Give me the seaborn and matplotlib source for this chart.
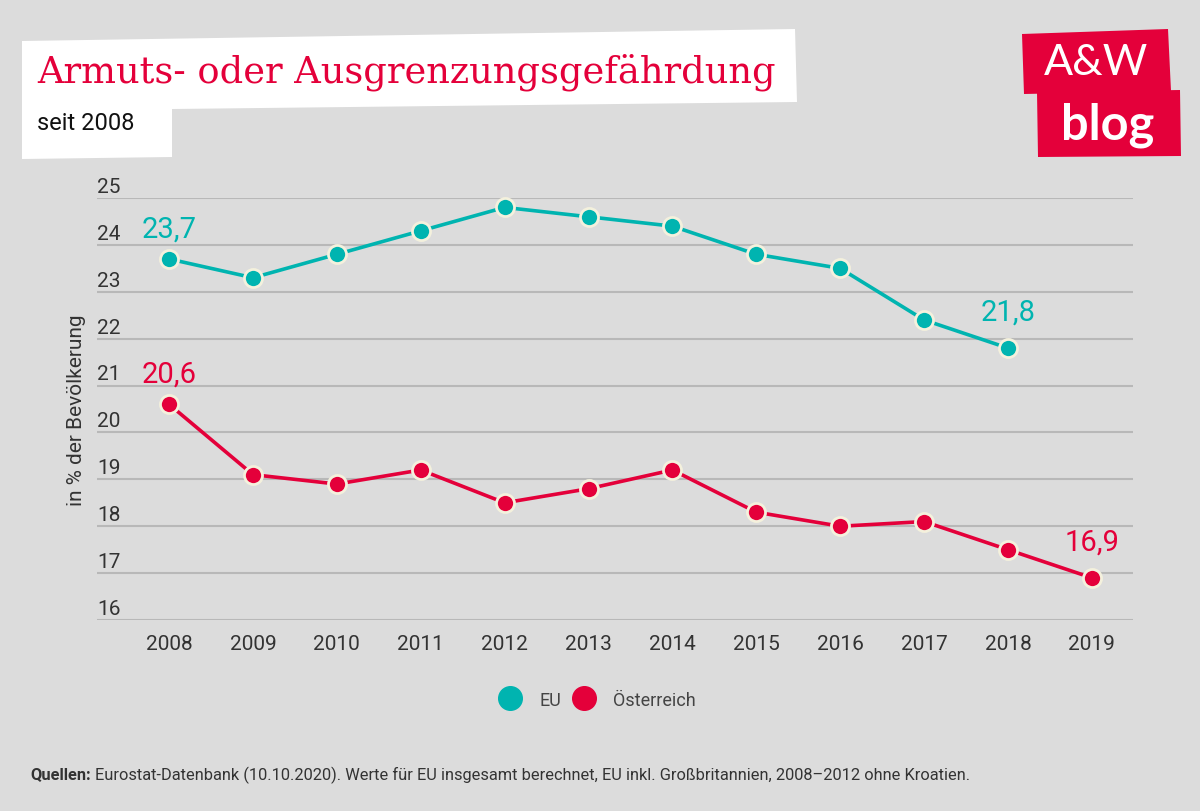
import pandas as pd
import numpy as np
import matplotlib.pyplot as plt
import matplotlib.transforms as mtransforms
from matplotlib.patches import Polygon
from matplotlib.lines import Line2D
import seaborn as sns

# Daten
jahre_eu = [2008, 2009, 2010, 2011, 2012, 2013, 2014, 2015, 2016, 2017, 2018]
werte_eu = [23.7, 23.3, 23.8, 24.3, 24.8, 24.6, 24.4, 23.8, 23.5, 22.4, 21.8]
jahre_at = [2008, 2009, 2010, 2011, 2012, 2013, 2014, 2015, 2016, 2017, 2018, 2019]
werte_at = [20.6, 19.1, 18.9, 19.2, 18.5, 18.8, 19.2, 18.3, 18.0, 18.1, 17.5, 16.9]
y_ticks = [16, 17, 18, 19, 20, 21, 22, 23, 24, 25]

bg = '#dcdcdc'
teal = '#00b4b0'
red = '#e4003a'
text_col = '#333333'
W, H = 1200, 812

df = pd.concat([
    pd.DataFrame({'Jahr': jahre_eu, 'Wert': werte_eu, 'Region': 'EU'}),
    pd.DataFrame({'Jahr': jahre_at, 'Wert': werte_at, 'Region': 'Österreich'}),
]).reset_index(drop=True)

sns.set_theme(style='white')
plt.rcParams['font.family'] = ['Roboto', 'DejaVu Sans']

fig = plt.figure(figsize=(12, 8.12), dpi=100, facecolor=bg)
ax = fig.add_axes([0.0808, 0.2352, 0.8633, 0.5197])
ax.set_facecolor(bg)

sns.lineplot(data=df, x='Jahr', y='Wert', hue='Region',
             palette={'EU': teal, 'Österreich': red},
             marker='o', markersize=13, markeredgecolor='#f4f1dd',
             markeredgewidth=2, linewidth=2.6, legend=False, ax=ax,
             clip_on=False, zorder=3)

ax.set_xlim(2008 - 0.86, 2019 + 0.49)
ax.set_ylim(16, 25)
ax.set_yticks(y_ticks)
ax.set_xticks(jahre_at)
ax.grid(axis='y', color='#b8b8b8', linewidth=1.5)
ax.grid(axis='x', visible=False)
for s in ax.spines.values():
    s.set_visible(False)

ax.tick_params(axis='y', length=0, pad=0, labelsize=15, labelcolor=text_col)
ax.tick_params(axis='x', length=0, pad=10, labelsize=15, labelcolor=text_col)
offset = mtransforms.ScaledTranslation(0, 1.5 / 72, fig.dpi_scale_trans)
for lbl in ax.get_yticklabels():
    lbl.set_horizontalalignment('left')
    lbl.set_verticalalignment('bottom')
    lbl.set_transform(lbl.get_transform() + offset)

ax.set_xlabel('')
ax.set_ylabel('in % der Bevölkerung', fontsize=15, color=text_col, labelpad=8)

# Wertbeschriftungen
labels = [(jahre_eu[0], werte_eu[0], teal, 12), (jahre_eu[-1], werte_eu[-1], teal, 16),
          (jahre_at[0], werte_at[0], red, 12), (jahre_at[-1], werte_at[-1], red, 16)]
for x, y, c, off in labels:
    ax.annotate(f'{y:.1f}'.replace('.', ','), (x, y), xytext=(0, off),
                textcoords='offset points', ha='center', va='bottom',
                fontsize=21, color=c)

# Legende
handles = [Line2D([], [], marker='o', linestyle='', markersize=17, color=teal),
           Line2D([], [], marker='o', linestyle='', markersize=17, color=red)]
fig.legend(handles, ['EU', 'Österreich'], loc='center', bbox_to_anchor=(0.495, 0.137),
           ncol=2, frameon=False, fontsize=13, labelcolor='#444444',
           handletextpad=0.6, columnspacing=0.3)


def px(points):
    # Pixel von oben links -> Anzeige-Koordinaten
    return [(x, H - y) for x, y in points]


# Titelbox
fig.patches.append(Polygon(px([(22, 42), (795, 30), (797, 103), (172, 110), (172, 158), (22, 160)]),
                           closed=True, transform=None, facecolor='white', edgecolor='none'))
fig.text(37 / W, 1 - 72 / H, 'Armuts- oder Ausgrenzungsgefährdung', color=red,
         fontsize=26.5, family=['DejaVu Serif'], va='center', ha='left')
fig.text(37 / W, 1 - 124 / H, 'seit 2008', color='#111111', fontsize=17,
         va='center', ha='left')

# Logo
fig.patches.append(Polygon(px([(1022, 35), (1168, 30), (1171, 92), (1024, 95)]), closed=True,
                           transform=None, facecolor=red, edgecolor='none'))
fig.patches.append(Polygon(px([(1037, 93), (1180, 91), (1181, 157), (1038, 158)]), closed=True,
                           transform=None, facecolor=red, edgecolor='none'))
fig.text(1096 / W, 1 - 63 / H, 'A&W', color='white', fontsize=31,
         ha='center', va='center', family=['Lato', 'DejaVu Sans'])
fig.text(1108 / W, 1 - 125 / H, 'blog', color='white', fontsize=35, fontweight='bold',
         ha='center', va='center', family=['Lato', 'DejaVu Sans'])

# Quelle
t_bold = fig.text(30 / W, 1 - 775 / H, 'Quellen:', fontsize=11.8, fontweight='bold',
                  color=text_col, va='center', ha='left')
ax.annotate('Eurostat-Datenbank (10.10.2020). Werte für EU insgesamt berechnet, EU inkl. '
            'Großbritannien, 2008\u20132012 ohne Kroatien.',
            xy=(1, 0.5), xycoords=t_bold, xytext=(3, 0), textcoords='offset points',
            fontsize=11.8, color=text_col, va='center', ha='left', annotation_clip=False)

fig.savefig('out.png', dpi=100, facecolor=bg)
